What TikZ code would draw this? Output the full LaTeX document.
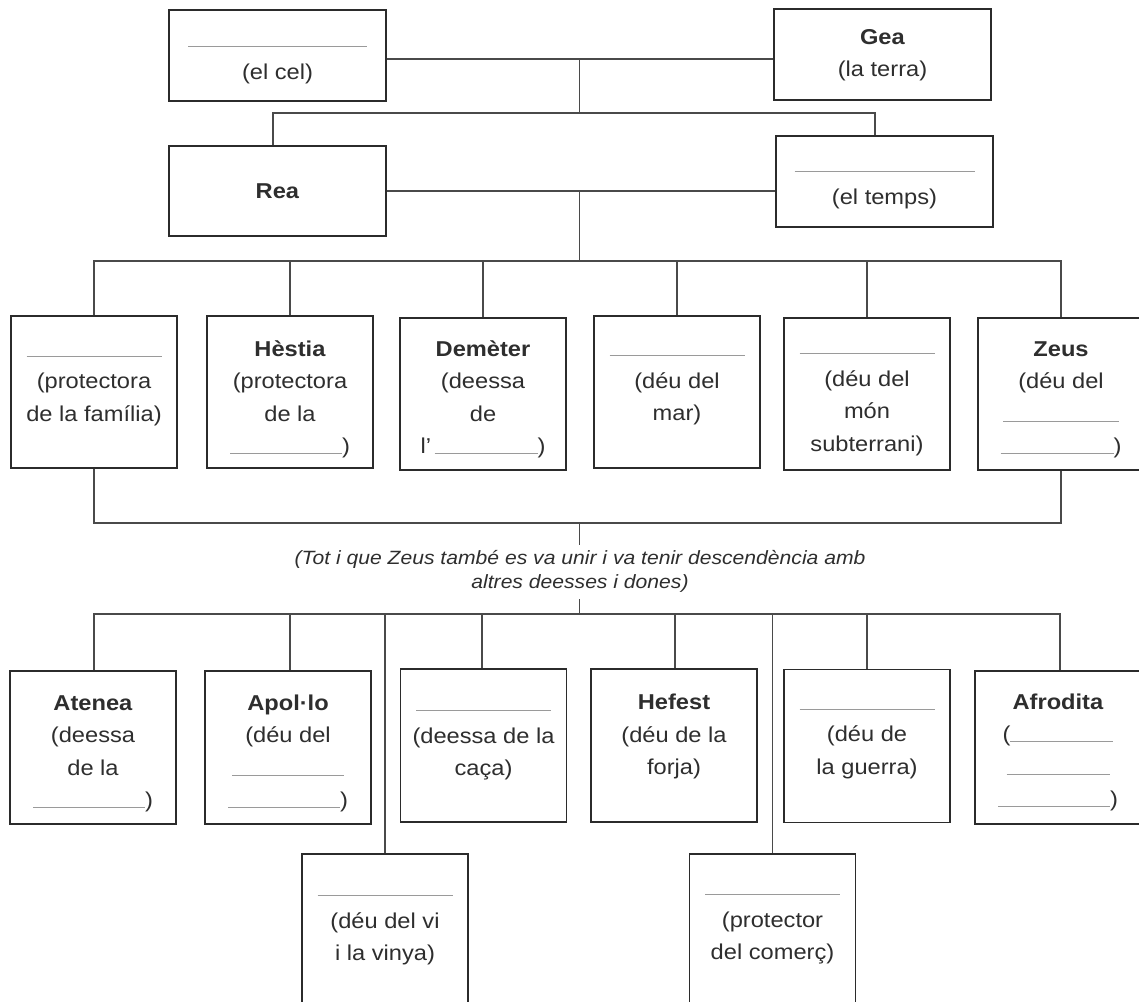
\documentclass[tikz,border=0pt]{standalone}
\usepackage{fontspec}
\setmainfont{Liberation Sans}[FakeStretch=1.1]
\usetikzlibrary{positioning}
\definecolor{boxc}{HTML}{2B2B2B}
\definecolor{connc}{HTML}{4A4A4A}
\definecolor{txtc}{HTML}{2E2E2E}
\definecolor{ulc}{HTML}{9A9A9A}
\newcommand\fs{\rule{0pt}{20pt}}
\newcommand\blank[1]{{\color{ulc}\rule[-0.5pt]{#1pt}{1pt}}}
\begin{document}
\begin{tikzpicture}[x=1pt,y=-1pt,
  god/.style={draw=boxc, line width=1.3pt, minimum width=166pt, minimum height=152pt, inner sep=0pt},
  topbox/.style={draw=boxc, line width=1.3pt, minimum width=217pt, minimum height=91pt, inner sep=0pt},
  txt/.style={inner sep=0pt, align=center, text=txtc, font=\fontsize{21.5}{32.5}\selectfont},
  conn/.style={draw=connc, line width=1.3pt},
  note/.style={inner sep=0pt, align=center, text=txtc, font=\itshape\fontsize{19.2}{24}\selectfont}]
\useasboundingbox (0,0) rectangle (1139,1001);
\clip (0,0) rectangle (1139,1001);
\fill[white] (0,0) rectangle (1139,1001);

% ---- top generations
\node[topbox] (ura) at (277.5,55.5) {};
\node[topbox] (gea) at (882.5,54.5) {};
\node[topbox, minimum height=90pt] (rea) at (277.5,191) {};
\node[topbox] (cro) at (884.5,181.5) {};
\node[txt, below=17pt of ura.north] (urat) {\fs\blank{179}\\(el cel)};
\node[txt, below=15.5pt of gea.north] (geat) {\fs\textbf{Gea}\\(la terra)};
\node[txt, below=32.5pt of rea.north] (reat) {\fs\textbf{Rea}};
\node[txt, below=16pt of cro.north] (crot) {\fs\blank{180}\\(el temps)};

\coordinate (m1) at (579.5,59);
\coordinate (m2) at (579.5,113);
\coordinate (m3) at (579.5,191);
\coordinate (m4) at (579.5,261);
\draw[conn] (ura.east |- m1) -- (gea.west |- m1);
\draw[conn] (m1) -- (m2);
\draw[conn] ([xshift=-4.5pt]rea.north) |- (m2) -| ([xshift=-9.5pt]cro.north);
\draw[conn] (rea.east |- m3) -- (cro.west |- m3);
\draw[conn] (m3) -- (m4);

% ---- second generation
\node[god] (b1) at (94,392) {};
\node[god] (b2) at (290,392) {};
\node[god] (b3) at (483,394) {};
\node[god] (b4) at (677,392) {};
\node[god] (b5) at (867,394) {};
\node[god] (b6) at (1061,394) {};
\node[txt, below=20.5pt of b1.north] (b1t) {\fs\blank{135}\\(protectora\\de la família)};
\node[txt, below=20.5pt of b2.north] (b2t) {\fs\textbf{Hèstia}\\(protectora\\de la\\\blank{112})};
\node[txt, below=18.5pt of b3.north] (b3t) {\fs\textbf{Demèter}\\(deessa\\de\\l’\,\blank{103})};
\node[txt, below=20pt of b4.north] (b4t) {\fs\blank{135}\\(déu del\\mar)};
\node[txt, below=16pt of b5.north] (b5t) {\fs\blank{135}\\(déu del\\món\\subterrani)};
\node[txt, below=18.5pt of b6.north] (b6t) {\fs\textbf{Zeus}\\(déu del\\\blank{116}\\\blank{113})};

\draw[conn] (b1.north) |- (m4) -| (b6.north);
\foreach \b in {b2,b3,b4,b5} \draw[conn] (\b.north) -- (\b.north |- m4);
\coordinate (m5) at (579.5,523);
\coordinate (m6) at (579.5,545);
\draw[conn] (b1.south) |- (m5) -| (b6.south);
\draw[conn] (m5) -- (m6);

\node[note] (nota) at (580,571) {(Tot i que Zeus també es va unir i va tenir descendència amb\\altres deesses i dones)};

% ---- third generation
\coordinate (m7) at (579.5,599);
\coordinate (m8) at (579.5,614);
\draw[conn] (m7) -- (m8);

\node[god, minimum height=153pt] (c1) at (93,747.5) {};
\node[god, minimum height=153pt] (c2) at (288,747.5) {};
\node[god, minimum height=153pt] (c3) at (483.5,745.5) {};
\node[god, minimum height=153pt] (c4) at (674,745.5) {};
\node[god, minimum height=153pt] (c5) at (867,746) {};
\node[god, minimum height=153pt] (c6) at (1058,747.5) {};
\node[god, minimum height=170pt] (d1) at (385,939) {};
\node[god, minimum height=170pt] (d2) at (772.5,939) {};

\node[txt, below=19.5pt of c1.north] (c1t) {\fs\textbf{Atenea}\\(deessa\\de la\\\blank{112})};
\node[txt, below=19.5pt of c2.north] (c2t) {\fs\textbf{Apol·lo}\\(déu del\\\blank{112}\\\blank{112})};
\node[txt, below=22pt of c3.north] (c3t) {\fs\blank{135}\\(deessa de la\\caça)};
\node[txt, below=21pt of c4.north] (c4t) {\fs\textbf{Hefest}\\(déu de la\\forja)};
\node[txt, below=20pt of c5.north] (c5t) {\fs\blank{135}\\(déu de\\la guerra)};
\node[txt, below=18.5pt of c6.north] (c6t) {\fs\textbf{Afrodita}\\(\blank{103}\\\blank{103}\\\blank{112})};
\node[txt, below=22pt of d1.north] (d1t) {\fs\blank{135}\\(déu del vi\\i la vinya)};
\node[txt, below=21pt of d2.north] (d2t) {\fs\blank{135}\\(protector\\del comerç)};

\draw[conn] ([xshift=1pt]c1.north) |- (m8) -| ([xshift=2pt]c6.north);
\foreach \b/\s in {c2/2,c3/-1.5,c4/1,c5/0} \draw[conn] ([xshift=\s pt]\b.north) -- ([xshift=\s pt]\b.north |- m8);
\draw[conn] (d1.north) -- (d1.north |- m8);
\draw[conn] (d2.north) -- (d2.north |- m8);
\end{tikzpicture}
\end{document}
